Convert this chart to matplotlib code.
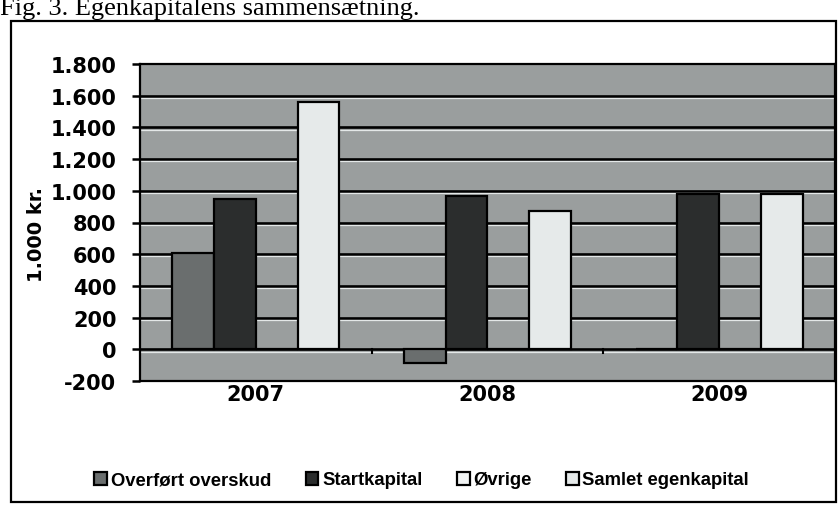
import matplotlib
matplotlib.use("Agg")
import matplotlib.pyplot as plt
import matplotlib.transforms as mtransforms
from matplotlib.patches import Rectangle
import numpy as np

# ---- data ----
years = ["2007", "2008", "2009"]
series_names = ["Overført overskud", "Startkapital", "Øvrige", "Samlet egenkapital"]
overfoert = [610, -85, 0]
startkapital = [950, 965, 980]
oevrige = [0, 0, 0]
samlet = [1560, 870, 980]
yticks = [-200, 0, 200, 400, 600, 800, 1000, 1200, 1400, 1600, 1800]
ytick_labels = ["-200", "0", "200", "400", "600", "800", "1.000", "1.200", "1.400", "1.600", "1.800"]
title = "Fig. 3. Egenkapitalens sammensætning."
ylabel = "1.000 kr."

colors = ["#6a6e6e", "#2b2d2d", "#f2f4f4", "#e6eaea"]
bg = "#9a9e9e"

fig = plt.figure(figsize=(8.4, 5.06), dpi=100)
W, H = 840, 506

# outer frame
fig.patches.append(Rectangle((11 / W, 1 - 503 / H), (836 - 11) / W, (503 - 22) / H,
                             transform=fig.transFigure, fill=False,
                             edgecolor="black", linewidth=1.6))

# caption at top (cut off by the page edge in the reference)
fig.text(0.0, 1 - 15 / H, title, fontfamily="Liberation Serif", fontsize=19,
         ha="left", va="baseline", color="black")

ax = fig.add_axes([140 / W, 1 - 382 / H, 695 / W, (382 - 65) / H])
ax.set_facecolor(bg)

x = np.arange(len(years))
w = 0.18
all_series = [overfoert, startkapital, oevrige, samlet]
offsets = [-1.5, -0.5, 0.5, 1.5]
for vals, off, c, name in zip(all_series, offsets, colors, series_names):
    ax.bar(x + off * w, vals, width=w, color=c, edgecolor="black",
           linewidth=1.6, label=name, zorder=3)

# gridlines (with light scan highlight just below)
hl = mtransforms.offset_copy(ax.transData, fig=fig, x=0, y=-2.2, units="dots")
for yv in yticks[1:-1]:
    ax.axhline(yv, color="black", linewidth=1.9, zorder=2)
    ax.plot([-0.5, 2.5], [yv, yv], color="#e4e8e8", linewidth=0.9,
            transform=hl, zorder=2)

# category boundary ticks below the zero line
for b in x[:-1] + 0.5:
    ax.plot([b, b], [0, -22], color="black", linewidth=1.5, zorder=2)

ax.set_xlim(-0.5, 2.5)
ax.set_ylim(-200, 1800)
ax.set_yticks(yticks)
ax.set_yticklabels(ytick_labels)
ax.set_xticks(x)
ax.set_xticklabels(years)

for lab in ax.get_yticklabels() + ax.get_xticklabels():
    lab.set_fontfamily("DejaVu Sans")
    lab.set_fontweight("bold")
    lab.set_fontsize(15)
ax.tick_params(axis="y", length=6, width=1.8, direction="out", pad=11, color="black")
ax.tick_params(axis="x", length=0, pad=2)

for s in ax.spines.values():
    s.set_color("black")
    s.set_linewidth(1.6)

ax.set_ylabel(ylabel, fontfamily="DejaVu Sans", fontweight="bold", fontsize=14)
ax.yaxis.set_label_coords(-0.135, 0.465)

leg = fig.legend(loc="center", bbox_to_anchor=(0.502, 1 - 481 / H), ncol=4,
                 frameon=False, handlelength=0.7, handleheight=0.7,
                 handletextpad=0.2, columnspacing=1.85,
                 prop={"family": "Liberation Sans", "weight": "bold", "size": 13.3})

fig.savefig("out.png", dpi=100)
